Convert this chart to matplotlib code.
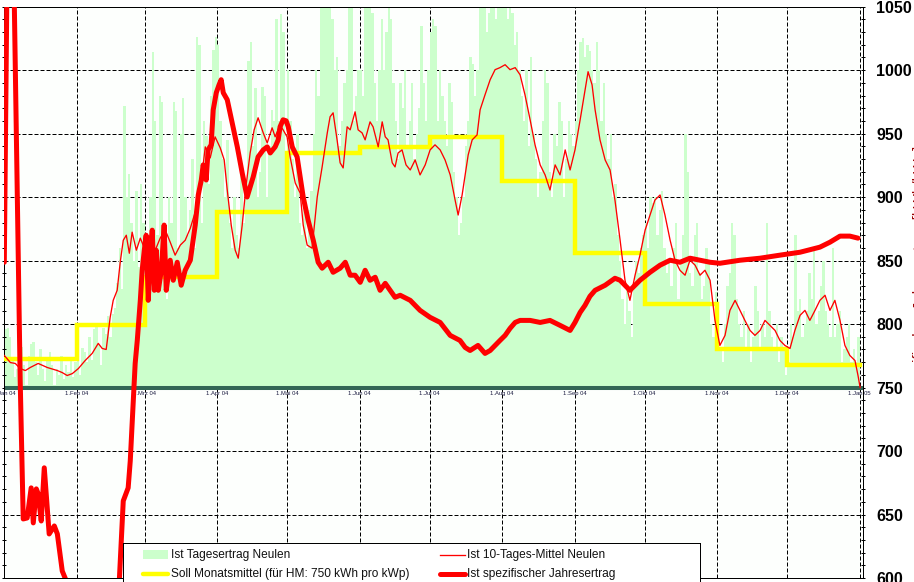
import numpy as np
import matplotlib
matplotlib.use("Agg")
import matplotlib.pyplot as plt
from matplotlib.patches import Rectangle
from matplotlib.transforms import offset_copy

# ---------------- data ----------------
month_labels = ["1.Jan 04", "1.Feb 04", "1.Mrz 04", "1.Apr 04", "1.Mai 04", "1.Jun 04",
                "1.Jul 04", "1.Aug 04", "1.Sep 04", "1.Okt 04", "1.Nov 04", "1.Dez 04", "1.Jan 05"]
month_start = [0, 31, 60, 91, 121, 152, 182, 213, 244, 274, 305, 335, 366]

soll_monat = [772.5, 799.3, 837.0, 888.2, 934.7, 939.5, 947.4, 912.7, 856.0, 815.8, 780.4, 767.5]

tag_jan = [796, 797, 790, 772, 758, 765, 780, 782, 768, 752, 775, 784, 786, 770, 760, 780,
           765, 755, 772, 778, 768, 752, 765, 760, 775, 757, 768, 762, 774, 758, 770]
tag_feb = [775, 760, 781, 778, 770, 790, 772, 796, 800, 784, 768, 797, 792, 806, 790, 808,
           813, 832, 860, 828, 972, 900, 918, 880, 850, 905, 845, 910, 880]
tag_mar = [830, 860, 900, 1014, 960, 870, 980, 975, 850, 820, 900, 880, 975, 968, 860, 950,
           978, 900, 870, 890, 930, 860, 1026, 1020, 880, 960, 948, 910, 980, 1016, 1026]
tag_apr = [1020, 960, 930, 900, 945, 880, 860, 900, 870, 860, 920, 880, 900, 1007, 1022, 940,
           986, 900, 920, 987, 980, 900, 940, 969, 960, 1040, 960, 1044, 1030, 920]
tag_mai = [1000, 960, 930, 900, 950, 880, 870, 900, 860, 890, 905, 950, 1000, 980, 1060, 1070,
           1060, 1065, 1060, 1040, 1000, 1010, 940, 960, 990, 1000, 1060, 1065, 960, 980, 1000]
tag_jun = [1000, 980, 1060, 1070, 1050, 1045, 990, 960, 1000, 1040, 1000, 1030, 1050, 1040, 990,
           960, 930, 990, 970, 1000, 940, 960, 990, 930, 950, 970, 1035, 990, 960, 1000]
tag_jul = [1030, 1040, 1035, 960, 1000, 980, 960, 940, 990, 975, 920, 900, 870, 880, 900, 940,
           960, 1010, 1005, 980, 1000, 1060, 1050, 1060, 1030, 1045, 1060, 1055, 1040, 1050, 1060]
tag_aug = [1055, 1060, 1040, 1050, 1045, 1020, 1030, 1000, 980, 960, 1000, 940, 1010, 950, 930,
           900, 920, 960, 1000, 990, 920, 900, 950, 940, 975, 960, 900, 930, 960, 950, 940]
tag_sep = [960, 1000, 1022, 1025, 1010, 1020, 1015, 1000, 990, 1022, 1000, 960, 990, 950, 930,
           950, 900, 910, 870, 850, 820, 800, 830, 810, 790, 830, 850, 840, 860, 870]
tag_okt = [880, 860, 900, 895, 900, 870, 890, 905, 860, 840, 850, 830, 860, 880, 820, 850,
           870, 950, 920, 840, 830, 870, 880, 840, 820, 830, 860, 850, 800, 790, 825]
tag_nov = [790, 780, 770, 800, 830, 840, 880, 870, 820, 800, 790, 810, 780, 800, 770, 790,
           830, 810, 780, 800, 790, 880, 810, 790, 780, 800, 770, 790, 780, 760]
tag_dez = [770, 800, 790, 870, 810, 820, 790, 800, 810, 840, 820, 860, 800, 810, 830, 850,
           810, 800, 790, 860, 790, 800, 810, 770, 780, 790, 800, 770, 780, 770, 790]

mittel10_tag = [0, 2.6, 4.7, 6.8, 9.0, 11.1, 14.5, 18.4, 22.7, 24.8, 26.9, 29.1, 31.7, 34.6, 37.6,
                40.2, 41.9, 43.6, 45.3, 46.6, 48.3, 49.6, 50.9, 52.2, 53.5, 54.7, 56.5, 58.2, 60.3,
                62.4, 64.6, 66.7, 68.9, 71, 73.1, 75.3, 77.4, 79.6, 81.7, 83.8, 86, 88.1, 90.2, 92.4,
                94.1, 95.4, 97.1, 98.8, 100.1, 101.8, 103.5, 105.2, 106.9, 108.6, 110.8, 112.5,
                114.6, 115.9, 118.0, 119.3, 121.0, 122.3, 124.5, 126.6, 127.9, 129.6, 131.7, 133.9,
                136.0, 138.2, 139.4, 140.7, 142.4, 143.7, 145, 146.7, 148, 150.1, 151.4, 153.1,
                154.4, 156.5, 157.8, 160, 161.7, 163, 164.2, 166, 167.2, 168.5, 170.2, 171.9, 173.7,
                175.8, 177.9, 180.1, 182.2, 184.3, 186.5, 188.6, 190.8, 192.9, 194.2, 195.9, 197.2,
                198.5, 200.2, 202.3, 203.6, 205.7, 207.9, 210, 212.1, 214.3, 216.4, 218.6, 220.7,
                222.8, 225, 227.1, 229.3, 231.4, 233.5, 235.7, 237.8, 240, 242.1, 244.2, 246.4,
                248.5, 249.8, 251.5, 252.8, 254.9, 257.1, 259.2, 261.3, 263.5, 265.6, 267.7, 269.9,
                272, 274.2, 276.3, 278.4, 280.6, 282.7, 284.9, 287, 289.1, 291.3, 293.4, 295.6,
                297.7, 299.8, 302, 304.1, 306.2, 308.4, 310.5, 312.7, 314.8, 316.9, 319.1, 321.2,
                323.4, 325.5, 327.6, 329.8, 331.9, 334, 336.2, 338.3, 340.5, 342.6, 344.7, 346.9,
                349, 351.2, 353.3, 355.4, 357.6, 359.7, 361.8, 364, 365.3, 366.2]
mittel10_wert = [775.3, 769.7, 769, 765, 763.4, 765.8, 769, 765.8, 763.4, 761.8, 759.5, 761, 765,
                 771.3, 776.9, 784.8, 780.8, 780, 805.3, 818.7, 826.6, 848.7, 866, 870, 855.8,
                 872.4, 858.2, 867.7, 858.2, 870, 858.2, 867.7, 874, 864.5, 854.3, 862.2, 866,
                 875.6, 888.2, 905.6, 939.6, 930.9, 947.5, 938.8, 929.3, 905.6, 878, 858.2, 851.9,
                 878, 909.6, 934.8, 953, 962.5, 950.6, 942.7, 954.6, 947.5, 957, 953, 947.5,
                 931.7, 911.1, 903.2, 878, 862.2, 859.8, 900, 923.8, 950.6, 963.3, 966.4, 945.1,
                 927, 923, 955.4, 953, 967.2, 953, 950.6, 945.1, 959.3, 955.4, 939.6, 959.3,
                 947.5, 945.1, 927, 923.8, 934.8, 937.2, 925.4, 921.4, 929.3, 917.5, 925.4, 937.2,
                 941.2, 937.2, 929.3, 917.5, 897.7, 885.9, 901.7, 917.5, 933.3, 945.1, 949, 968.8,
                 980.6, 992.5, 1000.4, 1002, 1004.3, 1000.4, 1002, 996.4, 980.6, 960.9, 941.2,
                 925.4, 917.5, 905.6, 925.4, 917.5, 937.2, 921.4, 937.2, 960.9, 984.6, 998.8,
                 988.5, 968.8, 945.1, 929.3, 921.4, 897.7, 866.1, 834.5, 818.7, 838.5, 854.3,
                 874, 885.9, 897.7, 901.7, 885.9, 866.1, 850.3, 842.4, 838.5, 850.3, 846.4, 838.5,
                 842.4, 834.5, 802.9, 783.2, 791.1, 810.8, 818.7, 810.8, 802.9, 795, 791.1, 795,
                 802.9, 799, 795, 787.1, 783.2, 780.8, 795, 806.9, 810.8, 802.9, 810.8, 818.7,
                 822.7, 810.8, 818.7, 802.9, 783.2, 775.3, 771.3, 759.5, 750]

jahr_tag = [0, 1.2, 2.5, 3.8, 4.3, 5.6, 6.8, 8.1, 9.8, 11.5, 12.4, 13.7, 14.5, 15.8, 17.1, 19.2,
            21.4, 22.7, 24.8, 26.9, 30.4, 41, 46.2, 49.2, 50.9, 53, 53.9, 55.2, 56, 56.9, 58.2,
            59, 59.9, 60.7, 61.6, 62.4, 63.3, 64.2, 65, 65.9, 67.2, 68.4, 69.3, 71, 72.3, 74,
            75.7, 77.4, 79.6, 81.7, 83, 84.3, 85.1, 86.4, 87.2, 88.5, 89.4, 90.7, 91.9, 92.8,
            93.7, 95.4, 97.5, 99.7, 101.8, 103.9, 106.5, 108.6, 110.8, 112.5, 113.8, 115.9,
            117.2, 118, 119.3, 120.6, 121.5, 123.2, 125.3, 126.6, 127.9, 130, 132.2, 134.3,
            136, 138.6, 140.7, 143.7, 145.9, 148, 150.1, 152.3, 154.4, 156.5, 158.7, 160.8,
            163, 165.1, 167.2, 169.4, 173.7, 177.9, 182.2, 186.5, 190.8, 195, 197.2, 199.3,
            202.7, 205.7, 207.9, 210, 212.1, 214.3, 216.4, 218.6, 220.7, 225, 229.3, 233.5,
            237.8, 242.1, 244.2, 246.4, 248.5, 250.6, 252.8, 257.1, 261.3, 263.5, 267.7, 272,
            276.3, 280.6, 284.9, 289.1, 293.4, 297.7, 302, 306.2, 314.8, 323.4, 331.9, 340.5,
            349, 353.3, 357.6, 361.8, 365.3]
jahr_wert = [848.7, 1080, 1130, 1080, 1050, 897.7, 755.5, 646.5, 647.3, 671, 643.4, 670.2, 666.3,
             644.9, 686.8, 634.7, 641, 634.7, 605.5, 596, 560, 530, 560, 597.5, 660.7, 671,
             692.3, 739.7, 769, 787.1, 818.7, 842.4, 858.2, 870, 818.7, 850.3, 874, 826.6,
             858.2, 826.6, 842.4, 878, 826.6, 850.3, 834.5, 848.7, 830.6, 842.4, 850.3, 878,
             901.7, 913.5, 925.4, 913.5, 937.2, 941.2, 968.8, 982.2, 988.5, 992.5, 982.2, 976.7,
             958.5, 939.6, 919, 900.1, 915.9, 931.7, 937.2, 939.6, 934.8, 939.6, 945.1, 955.4,
             960.9, 960.1, 955.4, 939.6, 931.7, 915.9, 900.1, 881.9, 866.1, 848.7, 844, 848.7,
             840.8, 844, 848.7, 838.5, 838.5, 832.9, 842.4, 834.5, 836.9, 826.6, 832.1, 826.6,
             821.1, 822.7, 818.7, 810.8, 805.3, 801.3, 791.1, 787.1, 781.6, 779.2, 783.2, 776.9,
             779.2, 783.2, 787.1, 791.1, 796.6, 801.3, 802.9, 802.9, 801.3, 802.9, 799, 795,
             801.3, 809.2, 814.8, 821.9, 826.6, 830.6, 836.1, 834.5, 826.6, 834.5, 840.8, 846.4,
             850.3, 848.7, 851.9, 850.3, 848.7, 847.9, 850.3, 851.9, 854.3, 856.6, 860.6, 864.5,
             869.3, 869.3, 867.7]

tagesertrag = (tag_jan + tag_feb + tag_mar + tag_apr + tag_mai + tag_jun + tag_jul + tag_aug
               + tag_sep + tag_okt + tag_nov + tag_dez)

BASIS = 750
y_ticks = list(range(600, 1051, 50))

# ---------------- figure ----------------
W, H = 914, 582
fig = plt.figure(figsize=(W / 100, H / 100), dpi=100)
fig.patch.set_facecolor("white")

def fx(p):
    return p / W

def fy(p):
    return 1 - p / H

L, R, T, B = 4.3, 862.7, 6.7, 578.0
ax = fig.add_axes([fx(L), fy(B), (R - L) / W, (B - T) / H])
px_per_day = 2.337
ax.set_xlim(0, (R - L) / px_per_day)
ax.set_ylim(600, 1050)
ax.set_facecolor("#FDFFFD")

# daily bars
tage = np.arange(len(tagesertrag))
werte = np.array(tagesertrag, dtype=float)
ax.bar(tage, werte - BASIS, bottom=BASIS, width=1.0, align="edge",
       color="#CCFFCC", linewidth=0, zorder=1, antialiased=False)

# grid
for v in y_ticks:
    if v in (600, 750, 1050):
        continue
    ax.axhline(v, color="black", lw=0.72, ls=(0, (4, 2)), zorder=0.5)
for d in month_start[1:]:
    ax.axvline(d, color="black", lw=0.72, ls=(0, (4, 2)), zorder=0.5)

# base band at 750
ax.axhline(BASIS, color="#336655", lw=2.9, zorder=2)

# month labels under the band
lab_tr = offset_copy(ax.transData, fig=fig, x=0, y=-5.5, units="dots")
for d, lab in zip(month_start, month_labels):
    ax.text(d, BASIS, lab, transform=lab_tr, fontsize=4.2, color="#1A1A40",
            ha="center", va="center", clip_on=False, zorder=3,
            family="Liberation Sans")

# Soll step line
ax.step(month_start, soll_monat + [soll_monat[-1]], where="post",
        color="#FFFF00", lw=3.2, zorder=3, solid_joinstyle="miter")

# 10-day mean
ax.plot(mittel10_tag, mittel10_wert, color="#FF0000", lw=0.95, zorder=4)

# annual yield
ax.plot(jahr_tag, jahr_wert, color="#FF0000", lw=3.6, zorder=5,
        solid_joinstyle="round", solid_capstyle="round")

# axes style
for s in ax.spines.values():
    s.set_color("black")
    s.set_linewidth(0.72)
ax.set_xticks([])
ax.set_yticks(y_ticks)
ax.set_yticks(list(range(600, 1051, 10)), minor=True)
ax.tick_params(axis="y", which="both", direction="inout", length=3.3, width=0.72,
               left=True, right=True, labelleft=False, labelright=True, pad=8)
for lab in ax.get_yticklabels():
    lab.set_fontfamily("Liberation Sans")
    lab.set_fontweight("bold")
    lab.set_fontsize(11.5)

# partially visible right axis title (mostly outside the picture, as in the original)
fig.text(fx(913.2), fy(270), "spezifischer Jahresertrag [kWh/kWp]", rotation=90,
         ha="left", va="center", color="#990000", fontsize=11, family="Liberation Sans")

# ---------------- legend ----------------
lx0, lx1, ly0, ly1 = 123.3, 700, 543.3, 585
lax = fig.add_axes([fx(lx0), fy(ly1), (lx1 - lx0) / W, (ly1 - ly0) / H], zorder=10)
lax.set_xlim(lx0, lx1)
lax.set_ylim(ly1, ly0)
lax.set_xticks([])
lax.set_yticks([])
lax.set_facecolor("white")
for s in lax.spines.values():
    s.set_linewidth(0.72)
    s.set_color("black")
lax.add_patch(Rectangle((142.7, 550), 25.6, 9, color="#CCFFCC", lw=0))
lax.plot([142.7, 168.3], [574, 574], color="#FFFF00", lw=3.2, solid_capstyle="round")
lax.plot([440, 465], [555, 555], color="#FF0000", lw=0.95)
lax.plot([440, 465], [574, 574], color="#FF0000", lw=3.6, solid_capstyle="round")
legend_texte = [(170.7, 555, "Ist Tagesertrag Neulen"),
                (170.7, 574, "Soll Monatsmittel (für HM: 750 kWh pro kWp)"),
                (467, 555, "Ist 10-Tages-Mittel Neulen"),
                (467, 574, "Ist spezifischer Jahresertrag")]
for x, y, t in legend_texte:
    lax.text(x, y, t, fontsize=8.6, ha="left", va="center", color="#111111",
             family="Liberation Sans")

fig.savefig("out.png", dpi=100)
